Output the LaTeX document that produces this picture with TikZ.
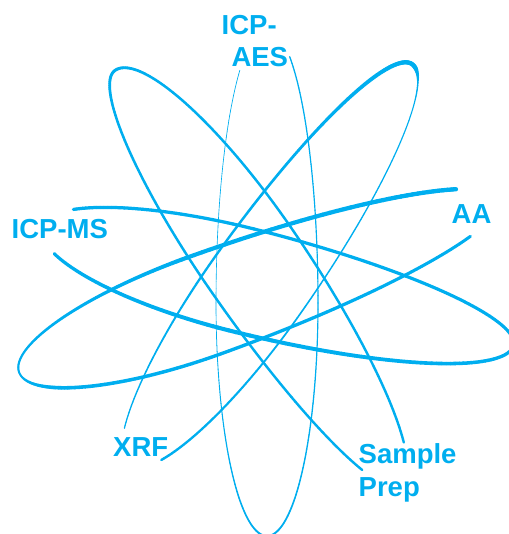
\documentclass[tikz,border=0pt]{standalone}
\usepackage{fontspec}
\setmainfont{Liberation Sans}
\definecolor{atomblue}{HTML}{00AEEF}
% egg-shaped ring: centre, axis angle, long half (label side), short half, half widths
\newcommand\eggset[7]{%
  \def\eCx{#1}\def\eCy{#2}%
  \pgfmathsetmacro\edx{cos(#3)}\pgfmathsetmacro\edy{sin(#3)}%
  \pgfmathsetmacro\enx{cos(#3+90)}\pgfmathsetmacro\eny{sin(#3+90)}%
  \def\eAL{#4}\def\eAT{#5}\def\eBp{#6}\def\eBm{#7}}
\newcommand\eggcoord[2]{%
  \pgfmathsetmacro\ec{cos(#1)}\pgfmathsetmacro\es{sin(#1)}%
  \pgfmathsetmacro\ea{\ec>0 ? \eAL : \eAT}%
  \pgfmathsetmacro\eb{\es>0 ? \eBp : \eBm}%
  \pgfmathsetmacro\ex{\eCx+\ea*\ec*\edx+\eb*\es*\enx}%
  \pgfmathsetmacro\ey{\eCy+\ea*\ec*\edy+\eb*\es*\eny}%
  \coordinate (#2) at (\ex,\ey);}
\def\wscale{1}
\newcommand\eggpiece[4]{%
  \pgfmathtruncatemacro\en{max(1,round(abs(#2-#1)/1.5))}%
  \foreach \k in {1,...,\en}{%
    \pgfmathsetmacro\ta{#1+(#2-#1)*(\k-1)/\en}%
    \pgfmathsetmacro\tb{#1+(#2-#1)*\k/\en}%
    \pgfmathsetmacro\wk{\wscale*(#3+(#4-#3)*(\k-0.5)/\en)}%
    \eggcoord{\ta}{pa}\eggcoord{\tb}{pb}%
    \draw[eggline, line width=\wk pt] (pa) -- (pb);}}
\begin{document}
\begin{tikzpicture}[x=1pt,y=-1pt,
  eggline/.style={draw=atomblue, line cap=round},
  lbl/.style={font=\bfseries\fontsize{27.5}{33}\selectfont, text=atomblue,
              inner sep=0pt, anchor=base west}]
\useasboundingbox (0,0) rectangle (508,534);
% vertical ring (ICP-AES)
\eggset{267}{303}{-90}{275}{233}{51}{51}
\eggpiece{26.4}{90}{1.3}{1.1}\eggpiece{90}{135}{1.1}{1.4}
\eggpiece{135}{180}{1.4}{2.0}\eggpiece{180}{225}{2.0}{1.3}
\eggpiece{225}{270}{1.3}{0.6}\eggpiece{270}{327.8}{0.6}{0.7}
\def\wscale{1.2}
% ring towards Sample Prep
\eggset{245.3}{259.9}{55.5}{275}{230}{46}{56}
\eggpiece{29.5}{150}{2}{2.1}\eggpiece{150}{180}{2.1}{2.5}
\eggpiece{180}{210}{2.5}{2.1}\eggpiece{210}{330.9}{2.1}{2}
% ring towards XRF
\eggset{254.9}{286.1}{125.3}{220}{272}{49.5}{53}
\eggpiece{29.5}{50}{1}{1.2}\eggpiece{50}{80}{1.2}{1.8}
\eggpiece{80}{120}{1.8}{2.3}\eggpiece{120}{150}{2.3}{3.2}
\eggpiece{150}{175}{3.2}{3.6}\eggpiece{175}{185}{3.6}{3.6}
\eggpiece{185}{197}{3.6}{1.2}\eggpiece{197}{210}{1.2}{0.9}
\eggpiece{210}{260}{0.9}{1.2}\eggpiece{260}{300}{1.2}{1.8}
\eggpiece{300}{333}{1.8}{2}
% ring towards AA
\eggset{203.5}{305.9}{-19.8}{315}{196}{51}{51}
\eggpiece{29.3}{90}{2.5}{2.8}\eggpiece{90}{150}{2.8}{3.0}
\eggpiece{150}{175}{3.0}{1.6}\eggpiece{175}{200}{1.6}{1.8}
\eggpiece{200}{240}{1.8}{2.6}\eggpiece{240}{270}{2.6}{3.4}
\eggpiece{270}{331.6}{3.4}{3.6}
% ring towards ICP-MS
\eggset{242}{277}{194.1}{207}{280}{49.5}{55}
\eggpiece{29.6}{90}{2.7}{2.7}\eggpiece{90}{150}{2.7}{2.6}
\eggpiece{150}{180}{2.6}{2.6}\eggpiece{180}{220}{2.6}{3.0}
\eggpiece{220}{270}{3.0}{3.4}\eggpiece{270}{335.2}{3.4}{2.6}
% labels
\node[lbl] (aes1) at (221.5,35) {ICP-};
\node[lbl] (aes2) at (231.3,66.7) {AES};
\node[lbl] (icpms) at (11.5,238) {ICP-MS};
\node[lbl] (aa) at (451.5,223) {AA};
\node[lbl] (xrf) at (113,456) {XRF};
\node[lbl] (sp1) at (358.5,463.3) {Sample};
\node[lbl] (sp2) at (358.5,496) {Prep};
\end{tikzpicture}
\end{document}
